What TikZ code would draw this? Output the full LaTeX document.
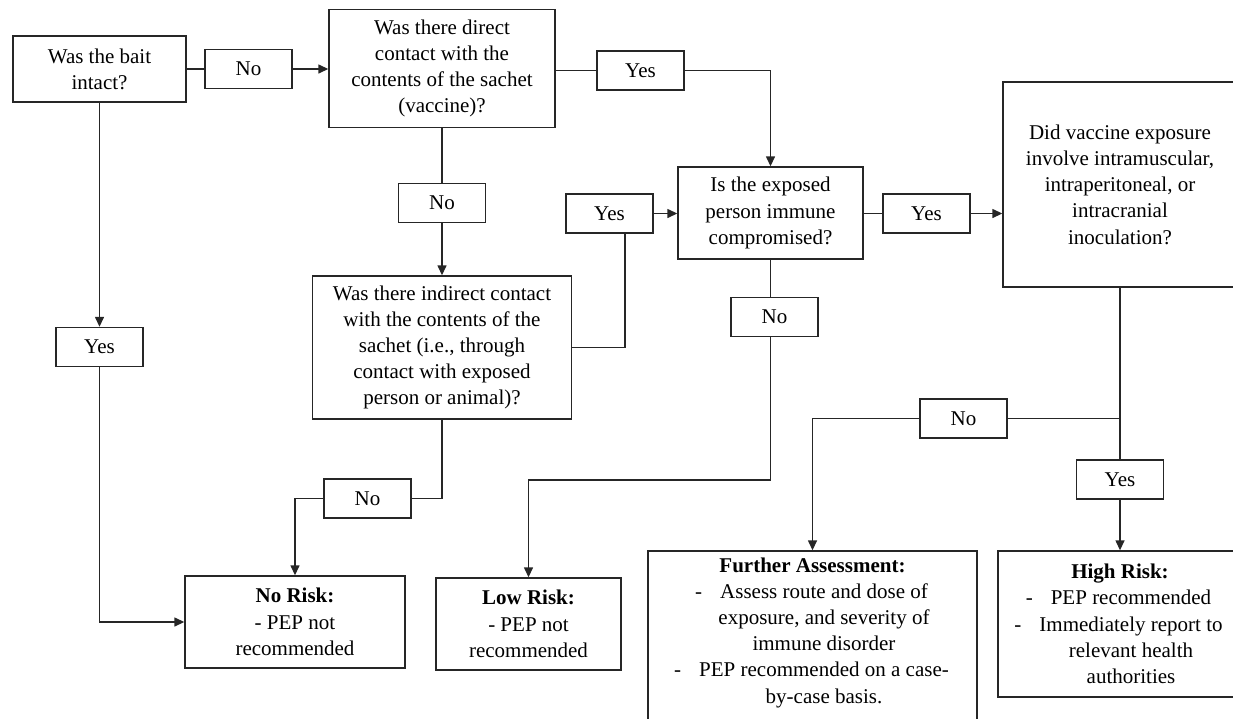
\documentclass[tikz,border=0pt]{standalone}
\usepackage{fontspec}
\setmainfont{Liberation Serif}
\usetikzlibrary{arrows.meta}
\newcommand{\dsh}{\llap{-\hspace{18pt}}}
\newcommand{\fsz}{\fontsize{21pt}{26.2pt}\selectfont}
\begin{document}
\begin{tikzpicture}[x=1pt,y=-1pt,
  box/.style={draw=black!85, line width=1.4pt, rectangle, inner sep=0pt, align=center, font=\fsz},
  lab/.style={box, minimum width=87pt, minimum height=39pt},
  txt/.style={inner sep=0pt, align=center, font=\fsz},
  conn/.style={draw=black!85, line width=1.4pt},
  arr/.style={conn, -{Triangle[length=10pt,width=9pt]}}]
\useasboundingbox (0,0) rectangle (1233,718);
% question boxes
\node[box, minimum width=173pt, minimum height=66pt] (b1) at (99.5,69) {Was the bait\\intact?};
\node[box, minimum width=226pt, minimum height=118pt] (b2) at (442,68.5) {Was there direct\\contact with the\\contents of the sachet\\(vaccine)?};
\node[box, minimum width=185pt, minimum height=92pt] (b3) at (770.5,213) {Is the exposed\\person immune\\compromised?};
\node[box, minimum width=259pt, minimum height=143pt] (b4) at (442,347.5) {Was there indirect contact\\with the contents of the\\sachet (i.e., through\\contact with exposed\\person or animal)?};
\node[box, minimum width=234pt, minimum height=205pt] (b5) at (1120,184.5) {Did vaccine exposure\\involve intramuscular,\\intraperitoneal, or\\intracranial\\inoculation?};
% outcome boxes
\node[box, minimum width=220pt, minimum height=92pt] (nr) at (295,622) {\textbf{No Risk:}\\- PEP not\\recommended};
\node[box, minimum width=185pt, minimum height=92pt] (lr) at (528.5,624) {\textbf{Low Risk:}\\- PEP not\\recommended};
\node[box, minimum width=329pt, minimum height=180pt] (fa) at (812.5,641) {};
\node[txt] (fat) at (812.5,632.5) {\textbf{Further Assessment:}\\
  \hspace*{23pt}\dsh Assess route and dose of\\
  \hspace*{23pt}exposure, and severity of\\
  \hspace*{23pt}immune disorder\\
  \hspace*{23pt}\dsh PEP recommended on a case-\\
  \hspace*{23pt}by-case basis.};
\node[box, minimum width=244pt, minimum height=146pt] (hr) at (1120,624) {\textbf{High Risk:}\\
  \hspace*{22pt}\dsh PEP recommended\\
  \hspace*{22pt}\dsh Immediately report to\\
  \hspace*{22pt}relevant health\\
  \hspace*{22pt}authorities};
% labels
\node[lab] (n1) at (248.5,69) {No};
\node[lab] (y1) at (640.5,70.5) {Yes};
\node[lab] (n2) at (442,203) {No};
\node[lab] (y2) at (609.5,213.5) {Yes};
\node[lab] (y3) at (926.5,213.5) {Yes};
\node[lab] (n3) at (963.5,418.5) {No};
\node[lab] (y4) at (1120,479.5) {Yes};
\node[lab] (n4) at (774.5,317) {No};
\node[lab] (y5) at (99.5,347) {Yes};
\node[lab] (n5) at (367.5,498.5) {No};
% coordinates
\coordinate (c1) at (625,347.5);
\coordinate (j) at (1120,418.5);
\coordinate (c2) at (770.5,480);
\coordinate (c3) at (442,498.5);
% connectors
\draw[conn] (b1.east) -- (n1.west);
\draw[arr] (n1.east) -- (n1.east -| b2.west);
\draw[conn] (y1.west -| b2.east) -- (y1.west);
\draw[arr] (y1.east) -| (b3.north);
\draw[conn] (b2.south) -- (n2.north);
\draw[arr] (n2.south) -- (b4.north);
\draw[conn] (b4.east |- c1) -- (c1) -- (c1 |- y2.south);
\draw[arr] (y2.east) -- (y2.east -| b3.west);
\draw[conn] (y3.west -| b3.east) -- (y3.west);
\draw[arr] (y3.east) -- (y3.east -| b5.west);
\draw[conn] (b5.south) -- (j);
\draw[conn] (j) -- (n3.east);
\draw[arr] (n3.west) -| (fa.north);
\draw[conn] (j) -- (y4.north);
\draw[arr] (y4.south) -- (hr.north);
\draw[conn] (b3.south) -- (b3.south |- n4.north);
\draw[arr] (n4.south -| c2) -- (c2) -| (lr.north);
\draw[conn] (b4.south) -- (c3) -- (n5.east);
\draw[arr] (n5.west) -| (nr.north);
\draw[arr] (b1.south) -- (y5.north);
\draw[arr] (y5.south) |- (nr.west);
\end{tikzpicture}
\end{document}
